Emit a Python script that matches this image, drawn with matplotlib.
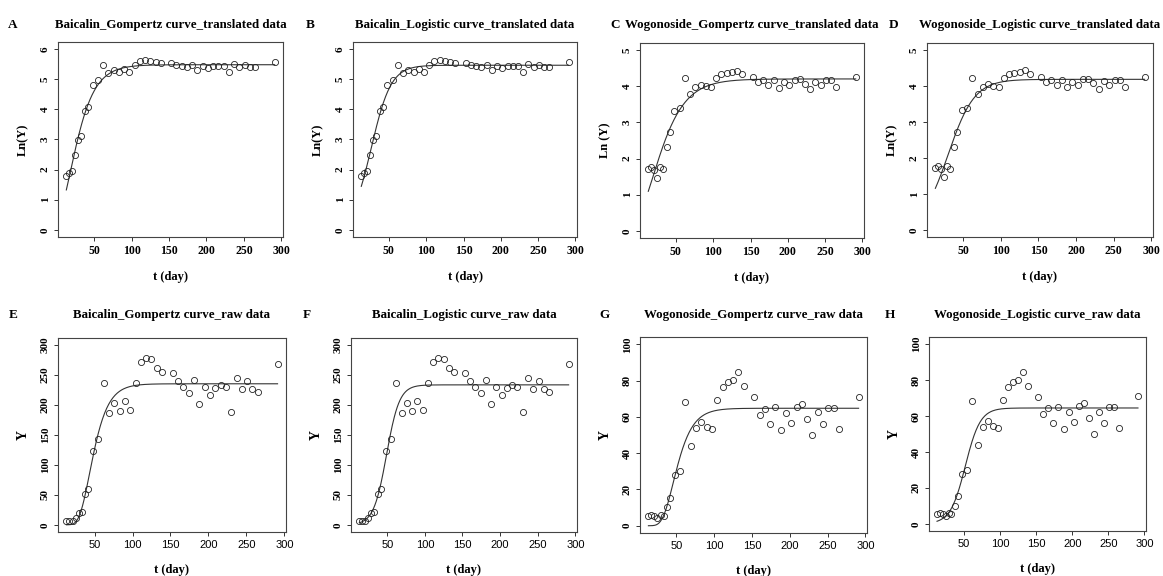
import numpy as np
import matplotlib
matplotlib.use("Agg")
import matplotlib.pyplot as plt

# sampling days
t = np.array([13, 17, 21, 25, 29, 33, 38, 42, 48, 55, 62, 69, 76, 83, 90, 97,
              104, 111, 118, 125, 132, 139, 153, 160, 167, 174, 181, 188, 195,
              202, 209, 216, 223, 230, 237, 244, 251, 258, 265, 291])

baicalin = np.array([6.0, 6.7, 7.0, 12.1, 19.9, 22.2, 51, 59.5, 123, 144, 237, 186,
                     204, 190, 206, 192, 237, 272, 278, 277, 262, 256, 254, 240,
                     230, 220, 242, 202, 231, 216, 228, 234, 231, 188, 246, 227,
                     241, 226, 221, 268])
wogonoside = np.array([5.6, 5.9, 5.4, 4.3, 5.9, 5.5, 10.1, 15.3, 27.7, 30.1, 68.1,
                       43.9, 53.7, 57.4, 54.6, 53.5, 69.2, 76.4, 79.0, 80.3, 84.5,
                       76.8, 70.7, 60.9, 64.4, 56.3, 65.3, 52.6, 62.0, 56.8, 65.7,
                       67.2, 59.0, 50.2, 62.4, 56.3, 65.1, 65.1, 53.3, 71.0])


def gompertz(x, p):
    return p[0] * np.exp(-p[1] * np.exp(-p[2] * x))


def logistic(x, p):
    return p[0] / (1 + p[1] * np.exp(-p[2] * x))


def fit(f, p0, x, y, n_iter=500):
    # plain Levenberg-Marquardt, numerical jacobian
    p = np.array(p0, float)
    lam = 1e-3
    r = y - f(x, p)
    cost = r @ r
    for _ in range(n_iter):
        J = np.empty((len(x), len(p)))
        for j in range(len(p)):
            h = 1e-6 * max(abs(p[j]), 1e-4)
            dp = np.zeros_like(p)
            dp[j] = h
            J[:, j] = (f(x, p + dp) - f(x, p)) / h
        A = J.T @ J
        g = J.T @ r
        ok = False
        while lam < 1e12:
            step = np.linalg.solve(A + lam * np.diag(np.diag(A)), g)
            pn = p + step
            rn = y - f(x, pn)
            cn = rn @ rn
            if np.isfinite(cn) and cn < cost:
                ok = True
                break
            lam *= 10
        if not ok:
            break
        done = abs(cost - cn) < 1e-12 * max(cost, 1)
        p, r, cost = pn, rn, cn
        lam = max(lam / 10, 1e-12)
        if done:
            break
    return p


serif = "Liberation Serif"
W, H = 1163, 576
fig = plt.figure(figsize=(W / 100, H / 100), dpi=100)

# (letter, title, y data, model, p0, ylim top, ylabel, rect px l,r,top,bottom, letter x, title y)
panels = [
    ("A", "Baicalin_Gompertz curve_translated data", np.log(baicalin), gompertz, [5.5, 5, 0.06], 6, "Ln(Y)", (58, 283, 42, 237), 13, 25),
    ("B", "Baicalin_Logistic curve_translated data", np.log(baicalin), logistic, [5.5, 8, 0.08], 6, "Ln(Y)", (353, 577, 42, 237), 310, 25),
    ("C", "Wogonoside_Gompertz curve_translated data", np.log(wogonoside), gompertz, [4.2, 3, 0.04], 5, "Ln (Y)", (640, 864, 43, 238), 615, 25),
    ("D", "Wogonoside_Logistic curve_translated data", np.log(wogonoside), logistic, [4.2, 6, 0.06], 5, "Ln(Y)", (927, 1153, 43, 237), 894, 25),
    ("E", "Baicalin_Gompertz curve_raw data", baicalin, gompertz, [235, 30, 0.08], 300, "Y", (58, 286, 338, 532), 13, 315),
    ("F", "Baicalin_Logistic curve_raw data", baicalin, logistic, [235, 300, 0.12], 300, "Y", (351, 577, 338, 532), 307, 315),
    ("G", "Wogonoside_Gompertz curve_raw data", wogonoside, gompertz, [65, 30, 0.07], 100, "Y", (640, 867, 337, 533), 605, 315),
    ("H", "Wogonoside_Logistic curve_raw data", wogonoside, logistic, [65, 200, 0.1], 100, "Y", (929, 1146, 337, 531), 890, 315),
]

for i, (letter, title, y, model, p0, ytop, ylab, (l, r, tp, bt), lx, ty) in enumerate(panels):
    ax = fig.add_axes([l / W, 1 - bt / H, (r - l) / W, (bt - tp) / H])
    p = fit(model, p0, t, y)
    tt = np.linspace(t.min(), t.max(), 300)
    ax.plot(tt, model(tt, p), color="#333333", lw=0.8)
    ax.plot(t, y, "o", mfc="none", mec="#222222", ms=4.4, mew=0.6)

    xr = t.max() - t.min()
    ax.set_xlim(t.min() - 0.04 * xr, t.max() + 0.04 * xr)
    ax.set_ylim(-0.04 * ytop, ytop * 1.04)
    ax.set_xticks([50, 100, 150, 200, 250, 300])
    if ytop == 6:
        yt = [0, 1, 2, 3, 4, 5, 6]
    elif ytop == 5:
        yt = [0, 1, 2, 3, 4, 5]
    elif ytop == 300:
        yt = [0, 50, 100, 150, 200, 250, 300]
    else:
        yt = [0, 20, 40, 60, 80, 100]
    ax.set_yticks(yt)
    ax.set_yticklabels([str(v) for v in yt], rotation=90, va="center",
                       fontfamily=serif, fontweight="bold", fontsize=8)
    if i < 4:
        ax.set_xticklabels([str(v) for v in ax.get_xticks().astype(int)],
                           fontfamily=serif, fontweight="bold", fontsize=8.5)
    else:
        ax.set_xticklabels([str(v) for v in ax.get_xticks().astype(int)],
                           fontfamily="Liberation Sans", fontsize=8)
    ax.tick_params(length=3, width=0.7, color="#333333", pad=3)
    for s in ax.spines.values():
        s.set_linewidth(0.8)
        s.set_color("#444444")

    ax.set_xlabel("t (day)", fontfamily=serif, fontweight="bold", fontsize=9, labelpad=10)
    ax.set_ylabel(ylab, fontfamily=serif, fontweight="bold",
                  fontsize=10 if ylab == "Y" else 9, labelpad=8)

    fig.text(lx / W, 1 - ty / H, letter, ha="center", va="center",
             fontfamily=serif, fontweight="bold", fontsize=9.5)
    fig.text((l + r) / 2 / W, 1 - ty / H, title, ha="center", va="center",
             fontfamily=serif, fontweight="bold", fontsize=9.3)

plt.savefig("out.png", dpi=100)
